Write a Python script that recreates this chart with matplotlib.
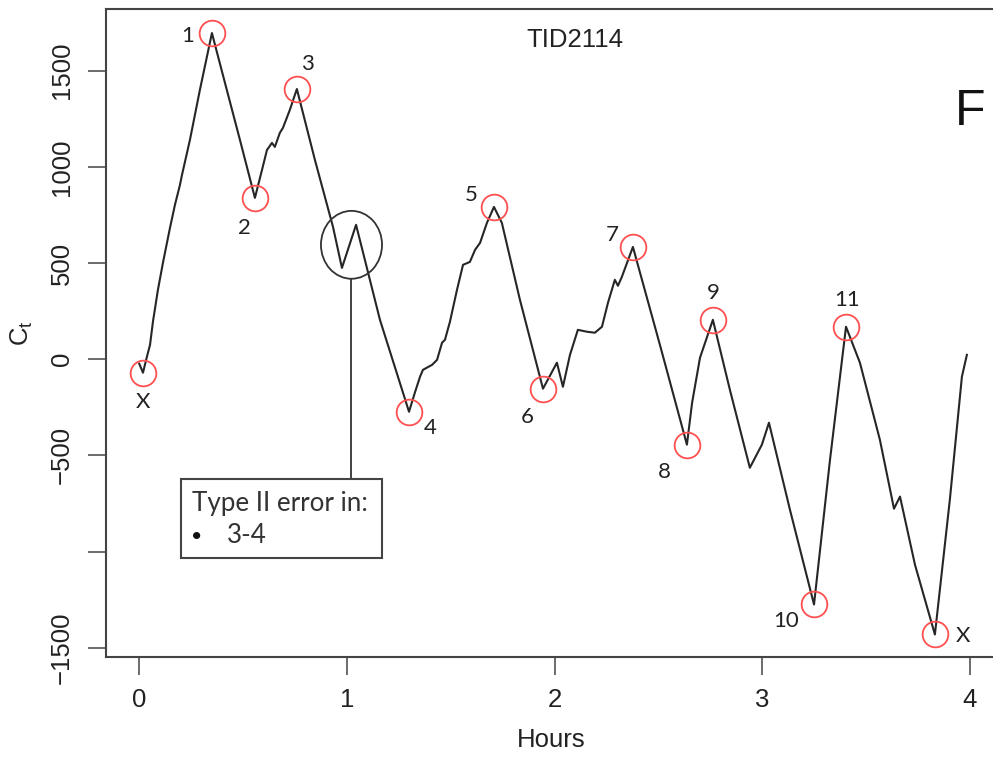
import matplotlib
matplotlib.use("Agg")
import matplotlib.pyplot as plt
from matplotlib.patches import Ellipse, Rectangle
import numpy as np

# ---------------- data ----------------
hours = [0.000, 0.018, 0.037, 0.052, 0.066, 0.090, 0.115, 0.148, 0.172, 0.196,
         0.206, 0.244, 0.292, 0.350, 0.413, 0.485, 0.557, 0.591, 0.615, 0.639,
         0.653, 0.677, 0.692, 0.725, 0.759, 0.846, 0.933, 0.976, 1.044, 1.159,
         1.299, 1.327, 1.352, 1.366, 1.410, 1.434, 1.458, 1.472, 1.496, 1.530,
         1.559, 1.592, 1.617, 1.641, 1.674, 1.708, 1.746, 1.833, 1.944, 2.011,
         2.040, 2.074, 2.112, 2.156, 2.194, 2.228, 2.257, 2.290, 2.305, 2.324,
         2.377, 2.507, 2.637, 2.662, 2.700, 2.762, 2.844, 2.940, 2.998, 3.032,
         3.133, 3.249, 3.326, 3.403, 3.470, 3.566, 3.634, 3.663, 3.735, 3.831,
         3.903, 3.961, 3.985]
ct_values = [-23, -70, 13, 75, 195, 361, 506, 683, 803, 906,
             959, 1140, 1400, 1696, 1436, 1140, 839, 984, 1088, 1125,
             1104, 1177, 1203, 1296, 1405, 1036, 688, 475, 699, 205,
             -273, -174, -91, -55, -29, -3, 86, 101, 195, 361,
             491, 506, 569, 605, 709, 792, 709, 309, -153, -18,
             -143, 23, 153, 143, 138, 169, 294, 413, 382, 429,
             584, 75, -444, -226, 8, 205, -159, -564, -444, -330,
             -782, -1275, -522, 169, -18, -418, -777, -714, -1068, -1431,
             -730, -91, 23]

# turning points (index into series) and their labels
turn_idx = [1, 13, 16, 24, 30, 45, 48, 60, 62, 65, 71, 73, 79]
turn_labels = ["X", "1", "2", "3", "4", "5", "6", "7", "8", "9", "10", "11", "X"]
# label offsets in pixels (dx, dy) relative to the turning point
turn_offsets = [(0, -29), (-24, -3), (-10, -30), (11, 25), (21, -16), (-23, 12),
                (-16, -28), (-21, 12), (-23, -27), (0, 27), (-28, -17), (1, 27),
                (28, -2)]

x_ticks = [0, 1, 2, 3, 4]
y_ticks = [-1500, -1000, -500, 0, 500, 1000, 1500]
y_ticklabels = ["\u22121500", "", "\u2212500", "0", "500", "1000", "1500"]

title_text = "TID2114"
panel_letter = "F"
x_label = "Hours"
y_label = r"$\mathregular{C_t}$"

# annotation of the type II error
err_center = (1.022, 595)
err_size = (0.294, 353)
err_box = (0.202, -1031, 1.169, -621)   # x0, y0, x1, y1
err_title = "Type II error in:"
err_items = ["3-4"]

# ---------------- figure ----------------
W, H = 993, 757
fig = plt.figure(figsize=(W / 100, H / 100), dpi=100)
ax_l, ax_r, ax_t, ax_b = 106, 997, 9, 657
ax = fig.add_axes([ax_l / W, 1 - ax_b / H, (ax_r - ax_l) / W, (ax_b - ax_t) / H])

arial = "Liberation Sans"
calibri = ["Lato", "DejaVu Sans"]
ink = "#222222"

ax.plot(hours, ct_values, color="#262626", lw=1.5, zorder=3)

tx = [hours[i] for i in turn_idx]
ty = [ct_values[i] for i in turn_idx]
ax.plot(tx, ty, linestyle="none", marker="o", ms=18.5, mfc="none",
        mec="#ff4f4f", mew=1.3, zorder=4)
for xv, yv, lab, (dx, dy) in zip(tx, ty, turn_labels, turn_offsets):
    ax.annotate(lab, (xv, yv), xytext=(dx, dy), textcoords="offset pixels",
                ha="center", va="center", fontsize=16, family=calibri,
                color=ink, zorder=5)

ax.set_xlim(-0.160, 4.130)
ax.set_ylim(-1548, 1821)

ax.set_xticks(x_ticks)
ax.set_xticklabels([str(t) for t in x_ticks])
ax.set_yticks(y_ticks)
ax.set_yticklabels(y_ticklabels)
ax.tick_params(axis="both", direction="out", length=13, width=1.1,
               color="#444444", labelsize=18.5, labelcolor=ink)
ax.tick_params(axis="x", pad=9)
ax.tick_params(axis="y", pad=10, labelrotation=90)
for lbl in ax.get_yticklabels():
    lbl.set_va("center")
for lbl in ax.get_xticklabels() + ax.get_yticklabels():
    lbl.set_family(arial)

for s in ax.spines.values():
    s.set_color("#444444")
    s.set_linewidth(1.5)

ax.set_xlabel(x_label, fontsize=18.5, family=arial, color=ink, labelpad=12)
ax.set_ylabel(y_label, fontsize=18.5, family=arial, color=ink, va="center")
ax.yaxis.set_label_coords(-0.094, 0.5)

ax.text(0.526, 0.952, title_text, transform=ax.transAxes, ha="center",
        va="center", fontsize=18.5, family=arial, color=ink)
ax.text(0.970, 0.841, panel_letter, transform=ax.transAxes, ha="center",
        va="center", fontsize=36, family=arial, color="#111111")

# error annotation
ax.add_patch(Ellipse(err_center, err_size[0], err_size[1], fill=False,
                     edgecolor="#333333", lw=1.3, zorder=4))
ax.plot([err_center[0], err_center[0]],
        [err_center[1] - err_size[1] / 2, err_box[3]],
        color="#333333", lw=1.3, zorder=4)
x0, y0, x1, y1 = err_box
ax.add_patch(Rectangle((x0, y0), x1 - x0, y1 - y0, fill=True, facecolor="white",
                       edgecolor="#444444", lw=1.5, zorder=5))
ax.text(0.255, -787, err_title, ha="left", va="baseline", fontsize=18.7,
        family=calibri, color="#333333", zorder=6)
for k, item in enumerate(err_items):
    ax.text(0.274, -922 - k * 130, "\u2022", ha="center", va="center",
            fontsize=14, family=calibri, color="#111111", zorder=6)
    ax.text(0.423, -953 - k * 130, item, ha="left", va="baseline",
            fontsize=18.7, family=calibri, color="#333333", zorder=6)

fig.savefig("out.png", dpi=100)
